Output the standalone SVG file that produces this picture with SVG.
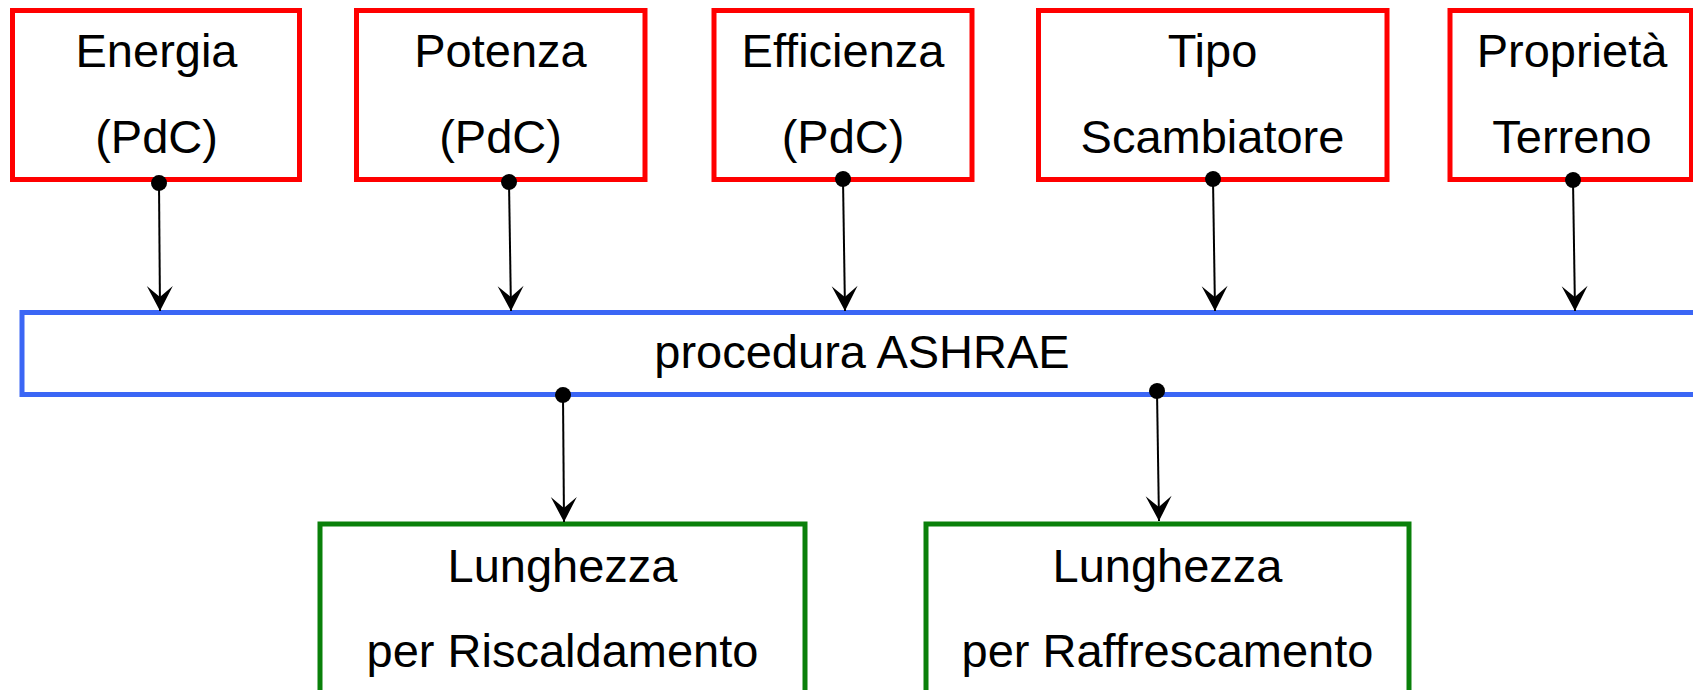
<svg xmlns="http://www.w3.org/2000/svg" width="1693" height="690" viewBox="0 0 1693 690">
<style>
.bg{fill:#ffffff}
.in{fill:#ffffff;stroke:#ff0000;stroke-width:5}
.proc{fill:#ffffff;stroke:#3b66f5;stroke-width:5}
.out{fill:#ffffff;stroke:#0a800a;stroke-width:5}
.t{font-family:"Liberation Sans",Arial,sans-serif;font-size:47px;fill:#000000;text-anchor:middle}
.c{stroke:#000000;stroke-width:2;fill:none;marker-start:url(#dot);marker-end:url(#arr)}
</style>
<defs>
<marker id="dot" markerUnits="userSpaceOnUse" viewBox="-9 -9 18 18" refX="0" refY="0" markerWidth="18" markerHeight="18" orient="auto">
<circle cx="0" cy="0" r="8" fill="#000000"/>
</marker>
<marker id="arr" markerUnits="userSpaceOnUse" viewBox="-1 -14 28 28" refX="25" refY="0" markerWidth="28" markerHeight="28" orient="auto">
<path d="M0,-13 L25,0 L0,13 L11,0 Z" fill="#000000"/>
</marker>
</defs>
<rect class="bg" x="0" y="0" width="1693" height="690"/>
<g id="energia">
<rect class="in" x="12.5" y="10.5" width="287" height="169"/>
<text class="t" x="156.5" y="67">Energia</text>
<text class="t" x="156.5" y="153">(PdC)</text>
</g>
<g id="potenza">
<rect class="in" x="356.5" y="10.5" width="288.5" height="169"/>
<text class="t" x="500.5" y="67">Potenza</text>
<text class="t" x="500.5" y="153">(PdC)</text>
</g>
<g id="efficienza">
<rect class="in" x="714" y="10.5" width="258" height="169"/>
<text class="t" x="843" y="67">Efficienza</text>
<text class="t" x="843" y="153">(PdC)</text>
</g>
<g id="tipo">
<rect class="in" x="1038.5" y="10.5" width="348.5" height="169"/>
<text class="t" x="1212.5" y="67">Tipo</text>
<text class="t" x="1212.5" y="153">Scambiatore</text>
</g>
<g id="terreno">
<rect class="in" x="1450" y="10.5" width="241.5" height="169"/>
<text class="t" x="1572" y="67">Proprietà</text>
<text class="t" x="1572" y="153">Terreno</text>
</g>
<g id="ashrae">
<rect class="proc" x="22" y="312.5" width="1680" height="82"/>
<text class="t" x="862" y="368">procedura ASHRAE</text>
</g>
<g id="riscaldamento">
<rect class="out" x="320" y="524" width="485" height="200"/>
<text class="t" x="562.5" y="582">Lunghezza</text>
<text class="t" x="562.5" y="667">per Riscaldamento</text>
</g>
<g id="raffrescamento">
<rect class="out" x="926" y="524" width="483" height="200"/>
<text class="t" x="1167.5" y="582">Lunghezza</text>
<text class="t" x="1167.5" y="667">per Raffrescamento</text>
</g>
<g id="connectors">
<path class="c" d="M159,183 L160,311"/>
<path class="c" d="M509,182 L511,311"/>
<path class="c" d="M843,179 L845,311"/>
<path class="c" d="M1213,179 L1215,311"/>
<path class="c" d="M1573,180 L1575,311"/>
<path class="c" d="M563,395 L564,522"/>
<path class="c" d="M1157,391 L1159,521"/>
</g>
</svg>
